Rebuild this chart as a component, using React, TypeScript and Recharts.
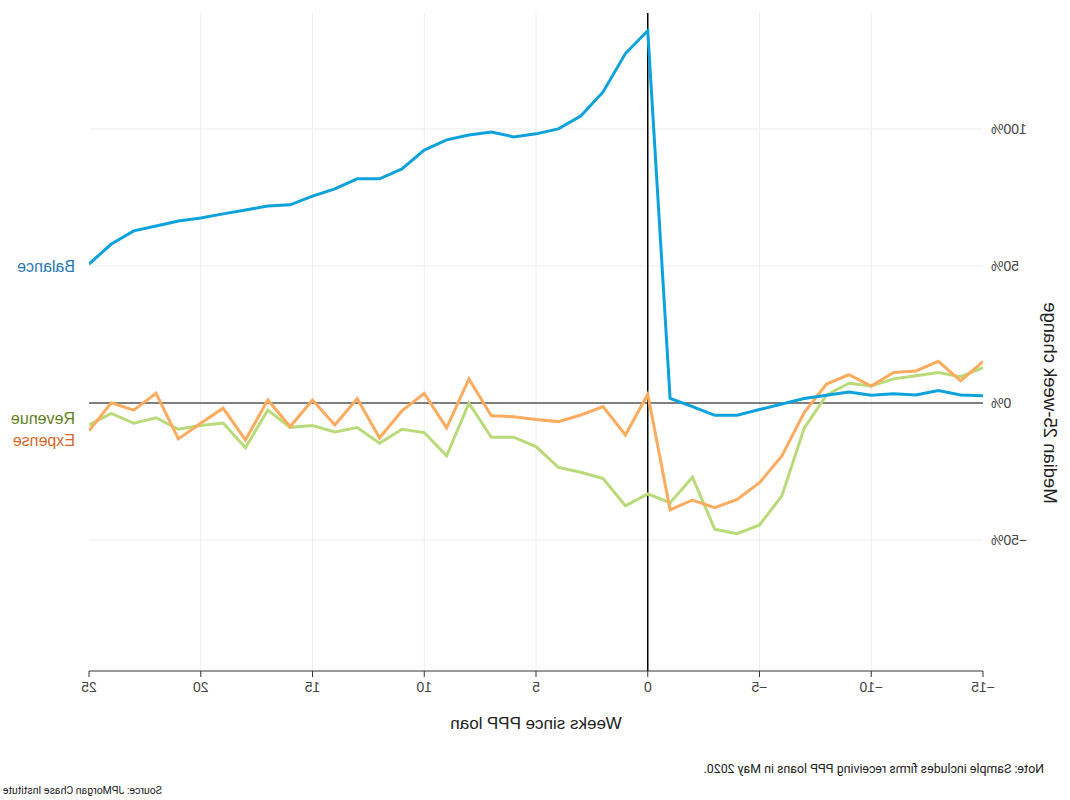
import React from 'react';
import { LineChart, Line, XAxis, YAxis, CartesianGrid, ReferenceLine } from 'recharts';

const weeks = [-15, -14, -13, -12, -11, -10, -9, -8, -7, -6, -5, -4, -3, -2, -1, 0, 1, 2, 3, 4, 5, 6, 7, 8, 9, 10, 11, 12, 13, 14, 15, 16, 17, 18, 19, 20, 21, 22, 23, 24, 25];

const balance = [2.6, 2.9, 4.5, 2.9, 3.4, 2.8, 4.0, 2.8, 1.6, -0.4, -2.4, -4.5, -4.5, -1.3, 1.7, 135.8, 127.5, 113.5, 104.7, 100, 98.2, 97.1, 98.9, 97.8, 96, 92.3, 85.4, 81.8, 81.8, 78.1, 75.5, 72.3, 71.9, 70.4, 69, 67.5, 66.4, 64.6, 62.8, 58, 50.7];

const revenue = [12.9, 9.6, 11.1, 9.9, 8.8, 6.2, 7.2, 2.9, -9.2, -33.9, -44.5, -47.7, -46.1, -27.1, -36.4, -33.2, -37.5, -27.6, -25.3, -23.5, -15.9, -12.5, -12.5, -0.1, -19.3, -10.8, -9.6, -14.7, -9, -10.6, -8.2, -8.9, -2.6, -16.3, -7.3, -8.2, -9.6, -5.4, -7.4, -3.8, -8];

const expense = [15.1, 8.1, 15.2, 11.7, 11.1, 6.2, 10.3, 6.9, -3.5, -19.3, -29.1, -35.2, -38.2, -35.4, -39, 3.2, -11.7, -1.3, -4.4, -6.8, -6, -5, -4.7, 8.8, -9.1, 3.5, -2.9, -12.7, 1.6, -8, 1.1, -8.6, 1.1, -13.5, -1.9, -7.4, -13.1, 3.5, -2.6, 0.1, -10.2];

const xTicks = [-15, -10, -5, 0, 5, 10, 15, 20, 25];
const yTicks = [-50, 0, 50, 100];
const xGrid = [-10, -5, 5, 10, 15, 20];
const yGrid = [-50, 50, 100];

const data = weeks.map((w, i) => ({ week: w, balance: balance[i], revenue: revenue[i], expense: expense[i] }));

const FONT = "'Liberation Sans', Arial, sans-serif";
const NOTE_FONT = "Roboto, 'Liberation Sans', sans-serif";

const fmtNum = (v: number) => (v < 0 ? '\u2212' + Math.abs(v) : String(v));

const endLabel = (text: string, color: string, dy: number) => (props: any) => {
  const { x, y, index } = props;
  if (index !== data.length - 1) return null;
  return (
    <text x={x + 14} y={y + dy} fill={color} fontSize={16} fontFamily={FONT} dominantBaseline="central" textAnchor="start">
      {text}
    </text>
  );
};

const YLabel = (props: any) => {
  const vb = props.viewBox || {};
  const cx = vb.x - 7;
  const cy = 403;
  return (
    <text x={cx} y={cy} transform={`rotate(-90 ${cx} ${cy})`} textAnchor="middle" dominantBaseline="central" fontSize={18.5} fontFamily={FONT} fill="#222">
      Median 25-week change
    </text>
  );
};

export default function App() {
  return (
    <div style={{ position: 'absolute', left: 0, top: 0, width: 1070, height: 800, transform: 'scaleX(-1)', background: '#fff' }}>
      <LineChart width={1070} height={800} data={data} margin={{ top: 13, right: 89, bottom: 69, left: 27 }}>
        <CartesianGrid stroke="#ececec" strokeWidth={1} horizontalValues={yGrid} verticalValues={xGrid} />
        <XAxis
          dataKey="week"
          type="number"
          domain={[-15, 25]}
          ticks={xTicks}
          tickFormatter={fmtNum}
          allowDataOverflow
          height={60}
          stroke="#333"
          tickSize={6}
          tickMargin={5}
          tick={{ fill: '#444', fontSize: 14, fontFamily: FONT }}
          label={{ value: 'Weeks since PPP loan', position: 'insideBottom', offset: 2, fontSize: 17, fill: '#222', fontFamily: FONT }}
        />
        <YAxis
          type="number"
          domain={[-97.8, 142.3]}
          ticks={yTicks}
          allowDataOverflow
          width={60}
          axisLine={false}
          tickLine={false}
          tickFormatter={(v: number) => fmtNum(v) + '%'}
          tick={{ fill: '#444', fontSize: 14, fontFamily: FONT }}
          label={<YLabel />}
        />
        <ReferenceLine y={0} stroke="#555" strokeWidth={1.5} />
        <ReferenceLine x={0} stroke="#000" strokeWidth={1.5} />
        <Line type="linear" dataKey="revenue" stroke="#b9da78" strokeWidth={3} dot={false} isAnimationActive={false} label={endLabel('Revenue', '#5f7f1f', -6)} />
        <Line type="linear" dataKey="expense" stroke="#fdab5e" strokeWidth={3} dot={false} isAnimationActive={false} label={endLabel('Expense', '#d8662a', 10)} />
        <Line type="linear" dataKey="balance" stroke="#0ea2dc" strokeWidth={3} dot={false} isAnimationActive={false} label={endLabel('Balance', '#2878b4', 2)} />
      </LineChart>
      <div style={{ position: 'absolute', left: 26, top: 761, fontFamily: NOTE_FONT, fontSize: 12.4, color: '#222', whiteSpace: 'nowrap' }}>
        Note: Sample includes firms receiving PPP loans in May 2020.
      </div>
      <div style={{ position: 'absolute', right: 3, top: 784, fontFamily: NOTE_FONT, fontSize: 10.5, color: '#222', whiteSpace: 'nowrap' }}>
        Source: JPMorgan Chase Institute
      </div>
    </div>
  );
}
